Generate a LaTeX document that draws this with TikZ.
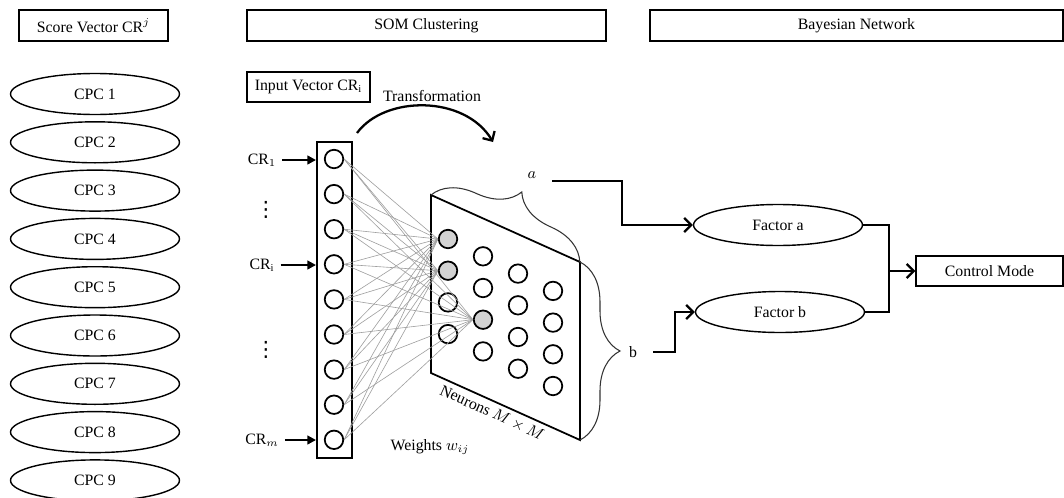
\documentclass[tikz,border=0pt]{standalone}
\usepackage{fontspec}
\setmainfont{Liberation Serif}
\newfontfamily\symfont{DejaVu Sans}
\usetikzlibrary{shapes.geometric,arrows.meta,decorations.pathreplacing}

\begin{document}
\begin{tikzpicture}[x=0.02cm, y=-0.02cm, font=\fontsize{9}{10.5}\selectfont]
\tikzstyle{box} = [draw, line width=0.8pt, inner sep=0pt, minimum height=0.62cm]
\tikzstyle{oval} = [draw, ellipse, line width=0.8pt, minimum width=3.38cm, minimum height=0.82cm, inner sep=0pt]
\tikzstyle{unit} = [draw, circle, line width=1pt, minimum size=0.37cm, inner sep=0pt]
\tikzstyle{conn} = [line width=1.3pt, -{Straight Barb[length=4pt,width=8pt]}]
\tikzstyle{feed} = [line width=1.3pt, -{Triangle[length=5pt,width=5pt]}]
\tikzstyle{wire} = [gray!75, line width=0.35pt]
\tikzstyle{brace} = [decorate, decoration={brace, amplitude=0.8cm}, black!80, line width=0.6pt]
\tikzstyle{dots} = [font=\symfont\fontsize{12}{12}\selectfont, inner sep=0pt]

\useasboundingbox (0,0) rectangle (1064,497);

\node[box, minimum width=2.98cm] (score) at (93.5,25.5) {Score Vector CR$^j$};
\node[box, minimum width=7.18cm] (som) at (426.5,25.5) {SOM Clustering};
\node[box, minimum width=8.26cm] (bayes) at (856.5,25.5) {Bayesian Network};

\foreach \k in {1,...,9}
  \node[oval] (cpc\k) at (95, {94+48.3*(\k-1)}) {CPC \k};

\node[box, minimum width=2.46cm, minimum height=0.6cm] (input) at (308.5,87) {Input Vector CR$_{\mathrm{i}}$};
\node (trans) at (432,96) {Transformation};
\coordinate (ts) at (357,133);
\coordinate (te) at (493,142);
\draw[conn] (ts) .. controls (385,95) and (465,95) .. (te);

\node[draw, line width=1.1pt, minimum width=0.7cm, minimum height=6.32cm] (col) at (334.5,300) {};
\foreach \k in {1,...,9}
  \node[unit] (in\k) at (334, {159+35.1*(\k-1)}) {};

\node (cr1) at (262,160) {CR$_1$};
\node (cri) at (262,265) {CR$_{\mathrm{i}}$};
\node (crm) at (262,440) {CR$_m$};
\node[dots] (vd1) at (266,210) {⋮};
\node[dots] (vd2) at (266,350) {⋮};
\draw[feed] (cr1) -- (cr1 -| col.west);
\draw[feed] (cri) -- (cri -| col.west);
\draw[feed] (crm) -- (crm -| col.west);

\coordinate (p1) at (431,195);
\coordinate (p2) at (580,262);
\coordinate (p3) at (580,440);
\coordinate (p4) at (431,373);
\draw[line width=1pt, fill=white] (p1) -- (p2) -- (p3) -- (p4) -- cycle;
\foreach \c in {0,...,3}
  \foreach \r in {0,...,3} {
    \pgfmathtruncatemacro\p{35*(((\c==0) && (\r<2)) || ((\c==1) && (\r==2)))}
    \node[unit, fill=gray!\p] (n\c\r) at ({448+35*\c}, {239+17.3*\c+31.7*\r}) {};
  }
\foreach \k in {1,...,9}
  \foreach \g in {n00,n01,n12}
    \draw[wire] (in\k.east) -- (\g.west);

\node[rotate=-24.2] (neu) at (492,413) {Neurons $M\times M$};
\node (wts) at (430,447) {Weights $w_{ij}$};

\draw[brace] (p1) -- (p2);
\draw[brace] (p2) -- (p3);
\node (alab) at (532,175) {$a$};
\node (blab) at (633,352) {b};

\node[oval] (fa) at (778,225) {Factor a};
\node[oval] (fb) at (780,312) {Factor b};
\node[box, minimum width=2.94cm, minimum height=0.6cm] (cm) at (989.5,271) {Control Mode};

\coordinate (aout) at (552,181);
\coordinate (bout) at (653,352);
\coordinate (jn) at (889,271);
\draw[conn] (aout) -- ++(70,0) |- (fa.west);
\draw[conn] (bout) -- ++(22,0) |- (fb.west);
\draw[line width=1.3pt] (fa.east) -| (jn) |- (fb.east);
\draw[conn] (jn) -- (cm.west);
\end{tikzpicture}
\end{document}
